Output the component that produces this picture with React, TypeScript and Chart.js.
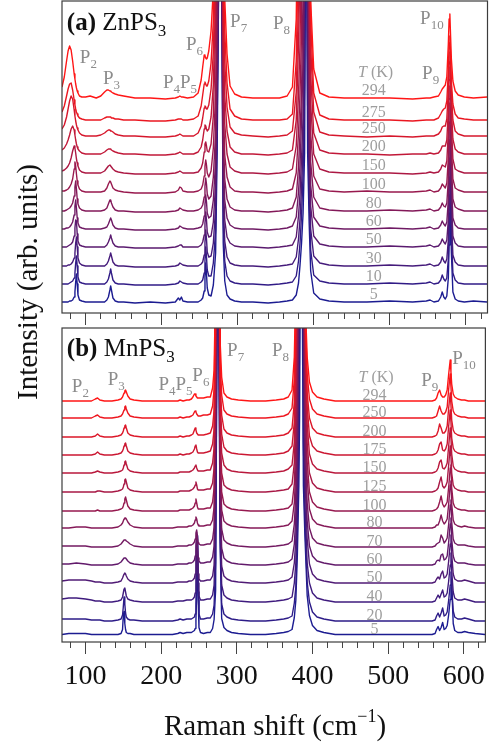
import React, { useEffect, useRef } from "react";
import { Chart, registerables } from "chart.js";

Chart.register(...registerables);

const FONT = '"Liberation Serif", "Times New Roman", serif';
const GRAY = "#8c8c8c";
const TGRAY = "#9e9e9e";

// ---------------- Raman shift grids (cm^-1) ----------------
const ramanShiftA = [
  69, 72, 75, 77, 79, 81, 83, 85, 86, 87, 88, 89, 90, 92, 95, 100, 106, 114,
  120, 125, 128, 130, 132, 133, 134, 136, 139, 143, 150, 165, 185, 205,
  218, 222, 224, 226, 228, 234, 242,
  248, 252, 254, 256, 257, 258, 259, 260, 262, 265, 268, 271, 273, 275, 277, 279, 281, 283, 286, 290, 296, 305, 320, 340, 355, 365, 372, 377,
  380, 382, 384, 386, 388, 389, 390, 391, 392, 394, 396, 400, 408, 420, 440, 470, 500, 530, 548,
  553, 558, 564, 567, 569, 571, 573, 575, 577, 578, 579, 580, 581, 583, 586, 590, 598, 610, 628,
];
const ramanShiftB = [
  69, 78, 88, 100, 108, 113, 116, 119, 125, 135, 143, 147, 149, 150, 151, 152, 153, 154, 156, 159, 164, 175, 190, 205,
  215, 222, 225, 229, 234, 237, 240, 242, 244, 245, 246, 247, 248, 249, 250, 252, 256, 261,
  265, 268, 270, 272, 274, 275, 276, 278, 280, 283, 287, 293, 302, 318, 338, 352, 362, 368,
  373, 376, 378, 380, 382, 383, 384, 385, 386, 388, 390, 393, 396, 400, 406, 415, 430, 460, 500, 530,
  550, 558, 562, 564, 566, 568, 570, 572, 574, 576, 578, 580, 582, 583, 584, 586, 588, 592, 597, 601, 606, 615, 628,
];

// ---------------- temperatures and vertical offsets ----------------
const tempsA = [294, 275, 250, 200, 150, 100, 80, 60, 50, 30, 10, 5];
const baselineA = [214, 192, 176, 158, 139, 120, 101, 83, 65, 46, 28, 10];
const tempsB = [294, 250, 200, 175, 150, 125, 100, 80, 70, 60, 50, 40, 20, 5];
const baselineB = [240, 223, 204, 186, 168, 149, 130, 113, 94, 76, 58, 39, 20, 6.5];

// ---------------- (a) ZnPS3 intensities above each baseline ----------------
const zn294 = [
  12, 22, 38, 48, 53, 49, 38, 25, 20, 15, 11, 8, 6, 3, 2, 2, 3, 1,
  3, 7, 9, 9, 8, 8, 7, 6, 5, 4, 3, 1, 1, 0,
  1, 2, 3, 2, 2, 1, 2,
  6, 19, 32, 44, 43, 41, 40, 41, 48, 68, 110, 220, 420, 650, 560, 330, 170, 100, 45, 13, 5, 2, 1, 1, 1, 3, 12, 80,
  250, 500, 850, 1000, 1000, 900, 800, 640, 480, 250, 98, 30, 6, 2, 1, 1, 1, 0, 1,
  1, 2, 3, 7, 10, 12, 14, 22, 55, 80, 85, 62, 40, 18, 8, 4, 2, 1, 2,
];
const zn275 = [
  9, 15, 25, 32, 37, 38, 31, 21, 16, 12, 9, 7, 5, 3, 2, 1, 1, 1,
  1, 3, 4, 4, 4, 4, 3, 3, 2, 2, 1, 1, 0, 0,
  1, 2, 2, 2, 1, 1, 2,
  5, 15, 26, 37, 39, 37, 35, 35, 40, 58, 100, 200, 420, 700, 600, 330, 160, 90, 38, 12, 5, 2, 1, 1, 1, 2, 7, 60,
  180, 450, 800, 1000, 1000, 930, 850, 680, 500, 260, 100, 28, 6, 2, 1, 1, 1, 0, 1,
  1, 1, 3, 7, 10, 12, 13, 20, 50, 78, 85, 65, 40, 17, 7, 3, 2, 1, 1,
];
const zn250 = [
  8, 12, 20, 28, 36, 41, 38, 27, 21, 16, 12, 9, 7, 4, 2, 1, 1, 1,
  2, 4, 6, 7, 7, 6, 6, 5, 3, 2, 1, 1, 0, 0,
  1, 2, 3, 2, 1, 1, 1,
  4, 11, 19, 29, 31, 30, 28, 28, 32, 48, 85, 180, 400, 750, 650, 320, 140, 75, 30, 10, 4, 2, 1, 0, 1, 2, 6, 45,
  136, 400, 750, 1000, 1100, 1000, 900, 720, 550, 250, 90, 25, 5, 2, 1, 0, 1, 0, 1,
  1, 1, 3, 6, 10, 11, 11, 18, 48, 75, 85, 70, 45, 17, 6, 3, 1, 1, 1,
];
const zn200 = [
  5, 7, 11, 15, 20, 26, 29, 25, 20, 15, 11, 8, 6, 4, 2, 1, 1, 1,
  1, 3, 5, 6, 6, 6, 5, 4, 3, 2, 1, 1, 0, 0,
  1, 2, 3, 2, 1, 1, 1,
  3, 8, 15, 26, 30, 29, 26, 24, 26, 38, 70, 160, 380, 800, 750, 320, 120, 60, 24, 8, 3, 1, 1, 0, 1, 2, 5, 35,
  110, 190, 600, 1000, 1200, 1100, 1000, 800, 600, 200, 80, 22, 5, 2, 1, 1, 0, 1, 1,
  2, 1, 2, 5, 9, 9, 9, 15, 45, 75, 88, 75, 48, 16, 6, 3, 1, 1, 1,
];
const zn150 = [
  3, 4, 6, 8, 11, 16, 23, 28, 26, 21, 15, 11, 8, 4, 2, 1, 1, 1,
  1, 3, 6, 8, 9, 8, 7, 5, 3, 2, 1, 0, 0, 0,
  1, 2, 3, 2, 1, 1, 1,
  2, 6, 11, 22, 30, 32, 28, 23, 22, 30, 58, 140, 350, 850, 850, 330, 110, 50, 20, 7, 3, 1, 1, 0, 1, 2, 5, 28,
  80, 130, 260, 900, 1300, 1250, 1100, 850, 600, 175, 70, 20, 5, 2, 1, 1, 1, 0, 1,
  2, 1, 2, 5, 9, 8, 7, 13, 42, 75, 88, 78, 50, 15, 5, 3, 1, 1, 1,
];
const zn100 = [
  2, 2, 3, 4, 6, 9, 14, 24, 31, 27, 19, 12, 8, 4, 2, 1, 1, 1,
  1, 2, 5, 9, 12, 11, 9, 5, 3, 2, 1, 0, 0, 0,
  1, 3, 6, 5, 2, 1, 1,
  2, 4, 8, 17, 27, 33, 28, 20, 16, 22, 45, 100, 230, 400, 1800, 350, 95, 38, 16, 6, 2, 1, 1, 0, 1, 2, 4, 20,
  60, 100, 160, 600, 1400, 1400, 1300, 900, 500, 150, 60, 17, 4, 2, 1, 2, 1, 1, 2,
  3, 1, 2, 5, 9, 7, 5, 10, 35, 70, 90, 82, 50, 14, 5, 3, 1, 1, 1,
];
const zn80 = [
  1, 1, 2, 3, 4, 6, 9, 16, 25, 31, 23, 13, 8, 4, 2, 1, 1, 1,
  1, 2, 4, 8, 12, 12, 9, 5, 2, 1, 1, 0, 0, 0,
  1, 2, 4, 3, 2, 1, 1,
  2, 4, 7, 15, 26, 34, 28, 18, 13, 16, 35, 80, 200, 300, 2000, 350, 80, 33, 13, 5, 2, 1, 1, 0, 1, 2, 4, 15,
  45, 80, 120, 220, 1000, 1400, 1500, 900, 400, 130, 50, 15, 4, 2, 1, 1, 2, 1, 2,
  3, 1, 2, 5, 9, 6, 5, 9, 32, 68, 90, 85, 50, 13, 5, 3, 1, 1, 1,
];
const zn60 = [
  1, 1, 2, 2, 3, 5, 8, 15, 24, 30, 22, 12, 7, 3, 2, 1, 1, 1,
  1, 2, 3, 6, 10, 12, 10, 5, 2, 1, 1, 0, 0, 0,
  1, 2, 4, 3, 2, 1, 1,
  2, 3, 6, 14, 26, 35, 28, 17, 12, 14, 30, 70, 190, 290, 2200, 340, 75, 30, 12, 5, 2, 1, 1, 0, 1, 2, 4, 13,
  38, 65, 110, 170, 300, 1300, 1700, 900, 300, 110, 45, 13, 4, 2, 1, 1, 2, 1, 2,
  3, 1, 2, 5, 9, 6, 4, 8, 30, 66, 90, 86, 50, 12, 5, 2, 1, 1, 1,
];
const zn50 = [
  1, 1, 1, 2, 3, 4, 6, 12, 20, 28, 27, 14, 7, 3, 2, 1, 1, 1,
  1, 1, 3, 6, 10, 13, 10, 5, 2, 1, 1, 0, 0, 0,
  1, 2, 3, 3, 1, 1, 1,
  1, 3, 6, 13, 25, 36, 28, 16, 11, 12, 26, 65, 180, 290, 2300, 330, 70, 28, 11, 5, 2, 1, 1, 0, 1, 2, 3, 11,
  32, 55, 90, 130, 290, 1200, 1900, 700, 250, 100, 42, 12, 4, 2, 1, 1, 2, 1, 2,
  3, 1, 2, 5, 9, 6, 4, 8, 28, 64, 90, 88, 50, 12, 5, 2, 1, 1, 1,
];
const zn30 = [
  1, 1, 1, 2, 2, 3, 5, 9, 14, 24, 30, 20, 9, 4, 2, 1, 1, 1,
  1, 1, 3, 6, 11, 14, 11, 5, 2, 1, 1, 0, 0, 0,
  1, 2, 4, 3, 2, 1, 1,
  1, 3, 5, 12, 25, 37, 28, 15, 10, 11, 24, 60, 170, 300, 2400, 320, 65, 26, 10, 4, 2, 1, 1, 0, 1, 2, 3, 10,
  28, 48, 80, 120, 260, 900, 2200, 400, 210, 95, 38, 11, 4, 2, 1, 1, 2, 1, 2,
  3, 1, 2, 5, 10, 6, 4, 8, 27, 62, 90, 88, 50, 12, 5, 2, 1, 1, 1,
];
const zn10 = [
  1, 1, 1, 1, 2, 3, 4, 7, 12, 22, 29, 19, 8, 3, 2, 1, 1, 1,
  1, 1, 3, 6, 12, 16, 12, 5, 2, 1, 1, 0, 0, 0,
  1, 2, 4, 3, 2, 1, 1,
  1, 3, 5, 12, 25, 38, 28, 15, 9, 9, 22, 55, 160, 310, 2500, 320, 62, 24, 9, 4, 2, 1, 1, 0, 1, 2, 3, 9,
  24, 42, 70, 110, 200, 370, 2500, 330, 180, 90, 35, 10, 4, 2, 1, 1, 2, 1, 2,
  3, 1, 2, 5, 10, 6, 4, 7, 26, 60, 90, 90, 50, 12, 5, 2, 1, 1, 1,
];
const zn5 = [
  1, 1, 1, 1, 2, 2, 3, 6, 11, 21, 29, 19, 8, 3, 2, 1, 1, 1,
  1, 1, 3, 6, 13, 17, 13, 5, 2, 1, 1, 0, 1, 0,
  1, 5, 3, 6, 2, 1, 1,
  1, 3, 5, 12, 26, 40, 29, 15, 8, 7, 18, 50, 150, 320, 2500, 330, 60, 22, 8, 4, 2, 1, 1, 0, 1, 2, 3, 8,
  20, 38, 60, 90, 150, 302, 3000, 302, 150, 80, 32, 10, 4, 2, 1, 1, 2, 1, 2,
  3, 1, 2, 6, 11, 6, 4, 7, 25, 58, 90, 90, 50, 11, 4, 2, 1, 2, 1,
];

// ---------------- (b) MnPS3 intensities above each baseline ----------------
const mn294 = [
  1, 1, 1, 1, 1, 3, 4, 2, 1, 1, 2, 3, 5, 7, 9, 11, 12, 10, 6, 3, 2, 1, 1, 1,
  1, 1, 2, 1, 2, 2, 3, 5, 8, 8, 6, 5, 4, 4, 4, 4, 4, 5,
  5, 14, 32, 120, 700, 1500, 300, 60, 25, 9, 5, 3, 2, 1, 1, 2, 3, 5,
  12, 45, 120, 350, 1200, 1450, 1600, 1100, 500, 200, 110, 45, 20, 10, 5, 3, 1, 1, 1, 1,
  1, 1, 2, 4, 9, 12, 7, 5, 5, 7, 12, 28, 42, 30, 18, 8, 5, 3, 2, 2, 1, 1, 1,
];
const mn250 = [
  1, 1, 1, 1, 1, 3, 4, 2, 1, 1, 2, 3, 5, 7, 9, 12, 13, 10, 6, 3, 2, 1, 1, 1,
  1, 1, 2, 1, 2, 2, 3, 4, 7, 8, 7, 5, 4, 3, 3, 3, 4, 4,
  5, 13, 30, 120, 750, 1600, 330, 60, 24, 9, 5, 3, 2, 1, 1, 2, 3, 5,
  11, 40, 110, 320, 1100, 1400, 1700, 1200, 600, 220, 115, 45, 20, 10, 5, 3, 1, 1, 1, 1,
  1, 1, 2, 3, 8, 13, 8, 5, 5, 7, 12, 30, 45, 32, 18, 8, 5, 3, 2, 2, 1, 1, 1,
];
const mn200 = [
  1, 1, 1, 1, 1, 2, 4, 2, 1, 1, 2, 3, 5, 7, 10, 12, 13, 10, 5, 3, 2, 1, 1, 1,
  1, 1, 2, 1, 2, 2, 3, 4, 8, 10, 8, 5, 4, 3, 3, 3, 3, 4,
  5, 12, 28, 130, 800, 1700, 350, 60, 23, 9, 5, 3, 2, 1, 1, 2, 3, 5,
  10, 36, 110, 300, 1000, 1400, 1800, 1300, 650, 230, 140, 45, 20, 10, 5, 3, 1, 1, 1, 1,
  1, 1, 2, 3, 7, 14, 10, 5, 5, 7, 12, 30, 45, 33, 18, 8, 5, 3, 2, 2, 1, 1, 1,
];
const mn175 = [
  1, 1, 1, 1, 1, 2, 4, 2, 1, 1, 2, 3, 5, 7, 10, 12, 13, 10, 5, 3, 2, 1, 1, 1,
  1, 1, 2, 1, 2, 2, 3, 4, 7, 10, 11, 7, 4, 3, 3, 3, 3, 4,
  5, 12, 27, 140, 850, 1800, 370, 60, 22, 9, 5, 3, 2, 1, 1, 2, 3, 5,
  10, 34, 100, 280, 950, 1400, 1800, 1350, 700, 240, 150, 50, 20, 10, 5, 3, 1, 1, 1, 1,
  1, 1, 2, 3, 6, 12, 14, 6, 5, 7, 12, 30, 46, 34, 18, 8, 5, 3, 2, 2, 1, 1, 1,
];
const mn150 = [
  1, 1, 1, 1, 1, 2, 3, 2, 1, 1, 2, 3, 4, 6, 9, 12, 13, 10, 5, 3, 2, 1, 1, 1,
  1, 1, 2, 2, 2, 2, 3, 4, 6, 8, 9, 6, 4, 3, 3, 3, 3, 4,
  4, 11, 26, 146, 900, 1900, 380, 60, 21, 9, 5, 3, 2, 1, 1, 2, 3, 5,
  9, 32, 90, 250, 900, 1400, 1800, 1400, 750, 250, 155, 50, 20, 10, 5, 3, 1, 1, 1, 1,
  1, 1, 2, 3, 6, 12, 14, 6, 5, 7, 11, 28, 46, 36, 20, 8, 5, 3, 2, 2, 1, 1, 1,
];
const mn125 = [
  1, 1, 1, 1, 1, 1, 2, 2, 1, 1, 2, 3, 4, 6, 9, 13, 14, 11, 5, 3, 2, 1, 1, 1,
  1, 1, 2, 2, 2, 2, 3, 4, 6, 8, 11, 8, 4, 3, 3, 3, 3, 4,
  4, 10, 25, 150, 300, 2000, 400, 60, 20, 8, 5, 3, 2, 1, 1, 2, 3, 4,
  9, 30, 80, 220, 850, 1400, 1800, 1400, 800, 260, 165, 50, 20, 10, 5, 3, 1, 1, 1, 1,
  1, 1, 2, 3, 5, 11, 16, 7, 5, 7, 11, 28, 47, 37, 20, 8, 5, 3, 2, 2, 1, 1, 1,
];
const mn100 = [
  1, 1, 1, 1, 1, 1, 2, 1, 1, 1, 2, 3, 4, 6, 9, 13, 15, 12, 6, 3, 2, 1, 1, 1,
  1, 1, 2, 2, 2, 2, 3, 4, 6, 9, 13, 9, 5, 3, 3, 3, 3, 4,
  4, 10, 24, 140, 310, 2000, 380, 62, 20, 8, 5, 3, 2, 1, 1, 2, 3, 4,
  8, 28, 70, 200, 800, 1400, 1800, 1400, 850, 300, 150, 50, 20, 10, 5, 3, 1, 1, 1, 1,
  1, 1, 2, 3, 5, 10, 16, 8, 5, 7, 10, 25, 44, 47, 24, 9, 5, 3, 2, 2, 1, 1, 1,
];
const mn80 = [
  1, 1, 2, 2, 1, 1, 1, 1, 1, 1, 2, 4, 6, 8, 10, 11, 11, 10, 7, 4, 2, 1, 1, 1,
  1, 2, 2, 2, 2, 3, 3, 4, 6, 9, 12, 10, 6, 4, 3, 3, 3, 4,
  4, 9, 22, 140, 330, 2100, 390, 65, 19, 8, 5, 3, 2, 1, 1, 2, 3, 4,
  8, 26, 60, 150, 550, 1300, 1800, 1500, 900, 300, 130, 50, 20, 10, 5, 3, 1, 1, 1, 1,
  1, 1, 2, 4, 4, 8, 14, 8, 5, 7, 10, 25, 44, 48, 25, 9, 5, 3, 2, 3, 2, 1, 1,
];
const mn70 = [
  2, 2, 2, 2, 1, 1, 1, 1, 1, 1, 2, 4, 6, 7, 8, 8, 8, 7, 6, 4, 2, 1, 1, 1,
  1, 2, 2, 2, 2, 3, 3, 4, 6, 9, 15, 18, 10, 5, 4, 3, 3, 4,
  4, 9, 21, 130, 350, 2200, 390, 68, 19, 8, 5, 3, 2, 1, 1, 2, 3, 4,
  7, 24, 55, 130, 380, 1100, 1700, 1600, 1000, 320, 120, 45, 20, 10, 5, 3, 1, 1, 1, 1,
  1, 1, 2, 4, 5, 6, 13, 10, 5, 7, 10, 24, 43, 48, 26, 9, 5, 3, 3, 3, 2, 1, 1,
];
const mn60 = [
  2, 2, 3, 2, 1, 1, 1, 1, 1, 1, 2, 4, 6, 7, 8, 8, 8, 7, 5, 3, 2, 1, 1, 1,
  1, 2, 2, 2, 2, 3, 3, 4, 6, 10, 20, 34, 20, 8, 5, 3, 3, 4,
  4, 9, 20, 120, 330, 2300, 360, 75, 18, 8, 5, 3, 2, 1, 1, 2, 3, 4,
  7, 22, 50, 120, 320, 900, 1600, 1600, 1100, 320, 110, 45, 20, 10, 5, 3, 1, 1, 1, 1,
  1, 1, 2, 5, 6, 5, 11, 12, 6, 7, 10, 24, 42, 48, 27, 10, 5, 3, 3, 3, 2, 1, 1,
];
const mn50 = [
  3, 4, 4, 4, 3, 2, 2, 2, 1, 1, 2, 3, 6, 8, 10, 11, 10, 8, 5, 3, 2, 1, 1, 1,
  1, 2, 2, 2, 2, 3, 3, 4, 6, 10, 25, 50, 28, 10, 5, 3, 3, 4,
  4, 8, 19, 100, 320, 2400, 360, 78, 18, 8, 5, 3, 2, 1, 1, 2, 3, 4,
  7, 21, 45, 110, 270, 800, 1500, 1700, 1200, 290, 110, 45, 20, 10, 5, 3, 1, 1, 1, 1,
  1, 1, 2, 5, 7, 5, 10, 13, 6, 7, 10, 23, 40, 49, 30, 10, 5, 3, 3, 4, 3, 1, 1,
];
const mn40 = [
  4, 5, 5, 4, 3, 2, 2, 2, 1, 1, 2, 3, 6, 10, 14, 15, 11, 7, 4, 3, 2, 1, 1, 1,
  1, 2, 2, 2, 3, 3, 3, 4, 6, 10, 25, 60, 67, 20, 7, 3, 3, 4,
  4, 8, 18, 80, 320, 2400, 350, 80, 18, 8, 5, 3, 2, 1, 1, 2, 3, 4,
  6, 20, 40, 100, 220, 450, 1400, 1800, 1200, 260, 100, 40, 20, 10, 5, 3, 1, 1, 1, 1,
  1, 1, 2, 5, 8, 5, 9, 13, 6, 7, 10, 22, 38, 50, 32, 11, 5, 3, 3, 4, 3, 1, 1,
];
const mn20 = [
  3, 3, 3, 3, 2, 2, 2, 2, 1, 1, 2, 3, 7, 15, 25, 18, 9, 5, 3, 2, 2, 1, 1, 1,
  1, 2, 3, 2, 3, 3, 3, 4, 5, 8, 18, 50, 87, 30, 8, 3, 3, 4,
  4, 8, 17, 60, 320, 2500, 350, 85, 18, 8, 5, 3, 2, 1, 1, 2, 3, 4,
  6, 19, 35, 90, 180, 300, 1300, 2000, 700, 180, 100, 40, 20, 10, 5, 3, 1, 1, 1, 1,
  1, 1, 2, 6, 9, 5, 9, 14, 6, 7, 10, 22, 37, 50, 34, 11, 5, 3, 3, 4, 3, 1, 1,
];
const mn5 = [
  1, 2, 2, 2, 1, 1, 1, 1, 1, 1, 1, 2, 6, 20, 24, 12, 6, 3, 2, 2, 1, 1, 1, 1,
  1, 2, 3, 2, 3, 3, 3, 4, 5, 7, 15, 45, 100, 35, 8, 3, 2, 3,
  3, 7, 16, 45, 330, 2500, 340, 90, 17, 8, 5, 3, 2, 1, 1, 2, 3, 4,
  6, 18, 35, 80, 150, 220, 400, 2500, 400, 150, 100, 40, 20, 10, 5, 3, 1, 1, 1, 1,
  1, 1, 2, 6, 9, 5, 8, 13, 6, 7, 10, 21, 36, 48, 50, 12, 5, 3, 3, 4, 3, 2, 1,
];

const spectraA = [zn294, zn275, zn250, zn200, zn150, zn100, zn80, zn60, zn50, zn30, zn10, zn5];
const spectraB = [mn294, mn250, mn200, mn175, mn150, mn125, mn100, mn80, mn70, mn60, mn50, mn40, mn20, mn5];

// ---------------- annotation text ----------------
type Seg = { t: string; sub?: boolean; it?: boolean; b?: boolean };
type Lbl = { x: number; y: number; segs: Seg[]; size: number; color: string };
const pk = (...subs: string[]): Seg[] => subs.flatMap((s) => [{ t: "P" }, { t: s, sub: true }]);
const TK: Seg[] = [{ t: "T", it: true }, { t: " (K)" }];

const labelsA: Lbl[] = [
  { x: 75.4, y: 283, segs: [{ t: "(a)", b: true }, { t: " ZnPS" }, { t: "3", sub: true }], size: 25, color: "#111" },
  { x: 92.5, y: 250, segs: pk("2"), size: 19, color: GRAY },
  { x: 122.8, y: 229, segs: pk("3"), size: 19, color: GRAY },
  { x: 201.7, y: 225, segs: pk("4", "5"), size: 19, color: GRAY },
  { x: 232, y: 263, segs: pk("6"), size: 19, color: GRAY },
  { x: 290, y: 286, segs: pk("7"), size: 19, color: GRAY },
  { x: 346.4, y: 284, segs: pk("8"), size: 19, color: GRAY },
  { x: 542.5, y: 234, segs: pk("9"), size: 19, color: GRAY },
  { x: 539.9, y: 289, segs: pk("10"), size: 19, color: GRAY },
  { x: 458.3, y: 236, segs: TK, size: 16, color: TGRAY },
];
const labelsB: Lbl[] = [
  { x: 75.4, y: 286, segs: [{ t: "(b)", b: true }, { t: " MnPS" }, { t: "3", sub: true }], size: 25, color: "#111" },
  { x: 82, y: 250, segs: pk("2"), size: 19, color: GRAY },
  { x: 129.3, y: 257, segs: pk("3"), size: 19, color: GRAY },
  { x: 196.4, y: 252, segs: pk("4", "5"), size: 19, color: GRAY },
  { x: 241.2, y: 261, segs: pk("6"), size: 19, color: GRAY },
  { x: 287.2, y: 286, segs: pk("7"), size: 19, color: GRAY },
  { x: 346.4, y: 286, segs: pk("8"), size: 19, color: GRAY },
  { x: 543.8, y: 256, segs: pk("9"), size: 19, color: GRAY },
  { x: 584.6, y: 278, segs: pk("10"), size: 19, color: GRAY },
  { x: 460.9, y: 260, segs: TK, size: 16, color: TGRAY },
];

function drawSegs(ctx: CanvasRenderingContext2D, px: number, py: number, segs: Seg[], size: number, color: string) {
  let cx = px;
  ctx.fillStyle = color;
  ctx.textAlign = "left";
  ctx.textBaseline = "alphabetic";
  for (const s of segs) {
    const fs = s.sub ? Math.round(size * 0.68) : size;
    ctx.font = `${s.it ? "italic " : ""}${s.b ? "bold " : ""}${fs}px ${FONT}`;
    ctx.fillText(s.t, cx, s.sub ? py + size * 0.24 : py);
    cx += ctx.measureText(s.t).width;
  }
}

function traceColor(i: number, n: number) {
  const t = 1 - i / (n - 1); // 1 = hottest (red), 0 = coldest (blue)
  const c0 = [28, 28, 145];
  const c1 = [255, 22, 22];
  const c = c0.map((v, k) => Math.round(v + (c1[k] - v) * t));
  return `rgb(${c[0]},${c[1]},${c[2]})`;
}

function makeAnnotator(labels: Lbl[], temps: number[], baselines: number[], tempX: number, lift: number) {
  return {
    id: "annotator",
    afterDraw(chart: any) {
      const { ctx, chartArea: a, scales } = chart;
      const xs = scales.x;
      const ys = scales.y;
      ctx.save();
      ctx.strokeStyle = "#3c3c3c";
      ctx.lineWidth = 1.2;
      ctx.strokeRect(a.left, a.top, a.right - a.left, a.bottom - a.top);
      for (const l of labels) {
        drawSegs(ctx, xs.getPixelForValue(l.x), ys.getPixelForValue(l.y), l.segs, l.size, l.color);
      }
      ctx.font = `16px ${FONT}`;
      ctx.fillStyle = TGRAY;
      ctx.textAlign = "center";
      ctx.textBaseline = "alphabetic";
      temps.forEach((t, i) => {
        ctx.fillText(String(t), xs.getPixelForValue(tempX), ys.getPixelForValue(baselines[i] + lift));
      });
      ctx.restore();
    },
  };
}

function buildConfig(panel: "a" | "b"): any {
  const isA = panel === "a";
  const xs = isA ? ramanShiftA : ramanShiftB;
  const spectra = isA ? spectraA : spectraB;
  const baselines = isA ? baselineA : baselineB;
  const temps = isA ? tempsA : tempsB;
  const datasets = spectra.map((vals, i) => ({
    label: `${temps[i]} K`,
    data: xs.map((x, j) => ({ x, y: baselines[i] + vals[j] })),
    borderColor: traceColor(i, spectra.length),
    borderWidth: 1.4,
    borderJoinStyle: "round",
    pointRadius: 0,
    tension: 0,
    fill: false,
  }));
  return {
    type: "line",
    data: { datasets },
    options: {
      responsive: false,
      animation: false,
      devicePixelRatio: 1,
      events: [],
      layout: { padding: { left: 62, right: 3.5, top: isA ? 1 : 2, bottom: 0 } },
      plugins: { legend: { display: false }, tooltip: { enabled: false }, title: { display: false } },
      scales: {
        x: {
          type: "linear",
          min: 69,
          max: 628.5,
          position: "bottom",
          afterFit: (s: any) => {
            s.height = isA ? 17 : 104;
          },
          ticks: {
            stepSize: 100,
            includeBounds: false,
            display: !isA,
            autoSkip: false,
            maxRotation: 0,
            padding: 6,
            color: "#111",
            font: { family: FONT, size: 28 },
          },
          grid: { drawOnChartArea: false, drawTicks: true, tickLength: 12, tickColor: "#444", tickWidth: 1 },
          border: { display: false },
        },
        xMinor: {
          type: "linear",
          axis: "x",
          min: 69,
          max: 628.5,
          position: { y: 0 },
          ticks: { stepSize: 20, includeBounds: false, display: false },
          grid: { drawOnChartArea: false, drawTicks: true, tickLength: 6, tickColor: "#444", tickWidth: 1 },
          border: { display: false },
        },
        y: { type: "linear", min: 0, max: isA ? 312 : 314, display: false },
      },
    },
    plugins: [makeAnnotator(isA ? labelsA : labelsB, temps, baselines, isA ? 479 : 482, isA ? 4 : 2)],
  };
}

export default function App() {
  const refA = useRef<HTMLCanvasElement>(null);
  const refB = useRef<HTMLCanvasElement>(null);
  useEffect(() => {
    const ca = new Chart(refA.current as HTMLCanvasElement, buildConfig("a"));
    const cb = new Chart(refB.current as HTMLCanvasElement, buildConfig("b"));
    return () => {
      ca.destroy();
      cb.destroy();
    };
  }, []);
  return (
    <div style={{ position: "absolute", left: 0, top: 0, width: 491, height: 746, background: "#fff", overflow: "hidden" }}>
      <canvas ref={refA} width={491} height={330} style={{ position: "absolute", left: 0, top: 0, width: 491, height: 330 }} />
      <canvas ref={refB} width={491} height={420} style={{ position: "absolute", left: 0, top: 326, width: 491, height: 420 }} />
      <div
        style={{
          position: "absolute",
          left: 27,
          top: 282,
          transform: "translate(-50%, -50%) rotate(-90deg)",
          whiteSpace: "nowrap",
          fontFamily: FONT,
          fontSize: 29,
          lineHeight: "32px",
          color: "#111",
        }}
      >
        Intensity (arb. units)
      </div>
      <div
        style={{
          position: "absolute",
          left: 275,
          top: 727,
          transform: "translate(-50%, -50%)",
          whiteSpace: "nowrap",
          fontFamily: FONT,
          fontSize: 29,
          lineHeight: "32px",
          color: "#111",
        }}
      >
        Raman shift (cm
        <span style={{ fontSize: "0.62em", position: "relative", top: "-0.72em" }}>−1</span>)
      </div>
    </div>
  );
}
